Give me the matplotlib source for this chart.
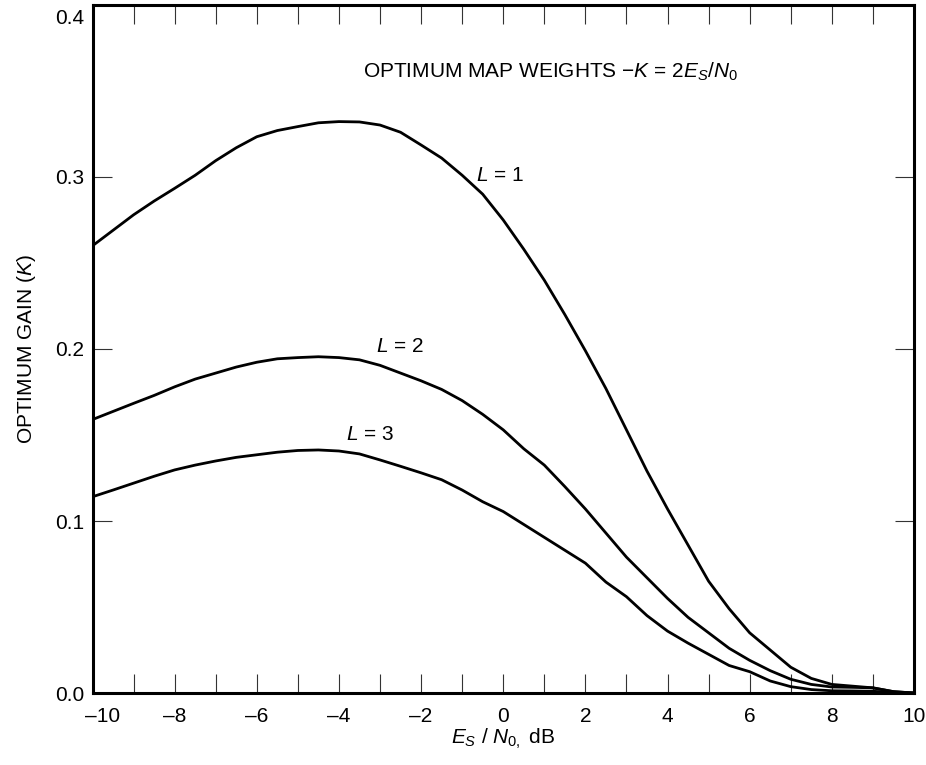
import matplotlib
matplotlib.use("Agg")
import matplotlib.pyplot as plt
from matplotlib.transforms import ScaledTranslation

plt.rcParams['font.family'] = ['Liberation Sans', 'DejaVu Sans']
plt.rcParams['font.size'] = 15
plt.rcParams['mathtext.fontset'] = 'custom'
plt.rcParams['mathtext.rm'] = 'Liberation Sans'
plt.rcParams['mathtext.it'] = 'Liberation Sans:italic'

# curve data (Es/N0 in dB, optimum gain K)
x_db = [-10, -9.5, -9, -8.5, -8, -7.5, -7, -6.5, -6, -5.5, -5, -4.5, -4, -3.5,
        -3, -2.5, -2, -1.5, -1, -0.5, 0, 0.5, 1.0, 1.5, 2.0, 2.5, 3.0, 3.5,
        4.0, 4.5, 5.0, 5.5, 6.0, 6.5, 7.0, 7.5, 8.0, 8.5, 9.0, 9.5, 10]

gain_l1 = [0.260, 0.269, 0.278, 0.286, 0.2934, 0.301, 0.3095, 0.317, 0.3234,
           0.327, 0.3293, 0.3315, 0.3322, 0.332, 0.3302, 0.326, 0.3186, 0.311,
           0.301, 0.290, 0.275, 0.258, 0.240, 0.220, 0.199, 0.177, 0.153, 0.129,
           0.107, 0.086, 0.065, 0.049, 0.035, 0.025, 0.015, 0.0085, 0.005,
           0.0040, 0.003, 0.0008, 0.0]

gain_l2 = [0.159, 0.1637, 0.1684, 0.173, 0.178, 0.1825, 0.186, 0.1895, 0.1923,
           0.1943, 0.195, 0.1955, 0.195, 0.1937, 0.1905, 0.186, 0.1815, 0.1765,
           0.170, 0.162, 0.153, 0.142, 0.1325, 0.120, 0.107, 0.093, 0.079, 0.067,
           0.055, 0.044, 0.035, 0.026, 0.019, 0.013, 0.008, 0.005, 0.0035,
           0.0033, 0.003, 0.0008, 0.0]

gain_l3 = [0.1141, 0.118, 0.122, 0.126, 0.1297, 0.1325, 0.1349, 0.137, 0.1385,
           0.140, 0.1410, 0.1413, 0.1407, 0.139, 0.1355, 0.1318, 0.128, 0.124,
           0.118, 0.1112, 0.1055, 0.098, 0.0905, 0.083, 0.0755, 0.0645, 0.056,
           0.045, 0.036, 0.029, 0.0225, 0.016, 0.0124, 0.007, 0.0037, 0.002,
           0.0013, 0.0012, 0.001, 0.0004, 0.0]

x_ticks = list(range(-10, 11))
x_ticklabels = ['\u201310', '', '\u20138', '', '\u20136', '', '\u20134', '', '\u20132', '',
                '0', '', '2', '', '4', '', '6', '', '8', '', '10']
y_ticks = [0.0, 0.1, 0.2, 0.3, 0.4]
y_ticklabels = ['0.0', '0.1', '0.2', '0.3', '0.4']

fig = plt.figure(figsize=(9.26, 7.65), dpi=100)
ax = fig.add_axes([0.0999, 0.0941, 0.8871, 0.8994])

for ys in [gain_l1, gain_l2, gain_l3]:
    ax.plot(x_db, ys, color='black', lw=2.0, solid_joinstyle='round')

ax.set_xlim(-10, 10)
ax.set_ylim(0, 0.4)
ax.set_xticks(x_ticks)
ax.set_xticklabels(x_ticklabels)
ax.set_yticks(y_ticks)
ax.set_yticklabels(y_ticklabels)
ax.tick_params(direction='in', length=13.5, width=0.8, top=True, right=True,
               labelsize=15, color='#333333')
ax.tick_params(axis='x', pad=10)
ax.tick_params(axis='y', pad=6)
for sp in ax.spines.values():
    sp.set_linewidth(2.2)

# nudge the end labels the way the original print has them
ax.get_yticklabels()[-1].set_transform(
    ax.get_yticklabels()[-1].get_transform() + ScaledTranslation(0, -0.12, fig.dpi_scale_trans))
ax.get_xticklabels()[0].set_transform(
    ax.get_xticklabels()[0].get_transform() + ScaledTranslation(0.10, 0, fig.dpi_scale_trans))

ax.set_xlabel(r'$E_S$ / $N_{0,}$ dB', fontsize=15, labelpad=1)
ax.set_ylabel(r'OPTIMUM GAIN ($K$)', fontsize=15, labelpad=12)

ax.text(-3.42, 0.361, r'OPTIMUM MAP WEIGHTS $-K$ = 2$E_S$/$N_0$', fontsize=15,
        ha='left', va='center')
ax.text(-0.08, 0.301, r'$L$ = 1', fontsize=15, ha='center', va='center')
ax.text(-2.52, 0.2017, r'$L$ = 2', fontsize=15, ha='center', va='center')
ax.text(-3.25, 0.150, r'$L$ = 3', fontsize=15, ha='center', va='center')

fig.savefig('out.png', dpi=100)
